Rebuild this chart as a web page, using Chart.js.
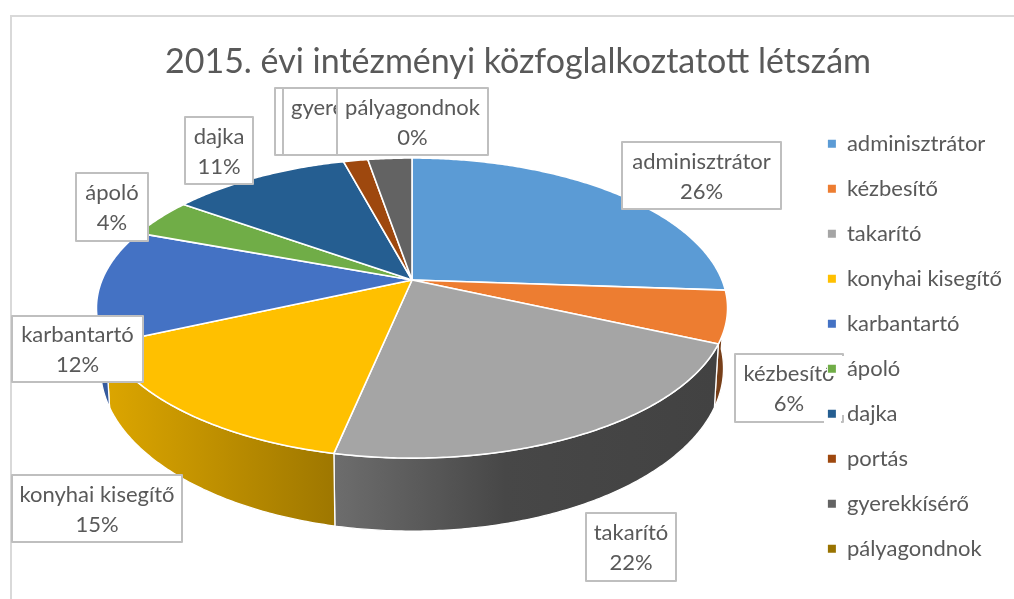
<!DOCTYPE html>
<html><head><meta charset="utf-8">
<style>html,body{margin:0;padding:0;background:#fff}#w{width:1014px;height:599px;position:relative}canvas{display:block;filter:blur(0.5px)}</style>
<script src="https://cdn.jsdelivr.net/npm/chart.js@4"></script>
</head><body><div id="w"><canvas id="c" width="1014" height="599"></canvas></div>
<script>
const titleText = "2015. évi intézményi közfoglalkoztatott létszám";
const categories = ["adminisztrátor","kézbesítő","takarító","konyhai kisegítő","karbantartó","ápoló","dajka","portás","gyerekkísérő","pályagondnok"];
const values = [26.1,5.6,21.6,15,12.3,4.2,11,1.5,2.7,0];
const colors = ["#5B9BD5","#ED7D31","#A5A5A5","#FFC000","#4472C4","#70AD47","#255E91","#9E480E","#636363","#997300"];
const labelBoxes = [[622,142,781,209],[735,354,843,422],[586,513,676,581],[12,475,182,542],[12,316,143,382],[76,173,148,241],[185,117,253,184],[275,88,360,155],[283,88,421,155],[337,88,488,155]];
const labelOrder = [0,2,3,4,5,6,1,7,8,9];
const topFace = {cx:412,cy:280,a:310,b:144.8,k:0.187};
const botFace = {cx:412,cy:338,a:306,b:157,k:0.187};
const sideShade = [[.6,.6],[.5,.5],[.66,.4],[.86,.62],[.8,.8],[.7,.7],[.7,.7],[.6,.6],[.6,.6],[.6,.6]];
function proj(f,th){const u=Math.sin(th),v=-Math.cos(th),d=1-f.k*v;return [f.cx+f.a*u/d,f.cy+f.b*v/d];}
function shade(hex,m){const n=parseInt(hex.slice(1),16);return `rgb(${Math.round((n>>16&255)*m)},${Math.round((n>>8&255)*m)},${Math.round((n&255)*m)})`;}
function rim(ctx,f,s,e,first){const N=Math.max(2,Math.ceil(Math.abs(e-s)/0.01));for(let i=0;i<=N;i++){const p=proj(f,s+(e-s)*i/N);if(i===0&&first)ctx.moveTo(p[0],p[1]);else ctx.lineTo(p[0],p[1]);}}
const pie3d={id:'pie3d',
 beforeDatasetDraw(){return false;},
 beforeDraw(chart){
  const ctx=chart.ctx,arcs=chart.getDatasetMeta(0).data;
  ctx.save();
  ctx.strokeStyle='#d9d9d9';ctx.lineWidth=2;ctx.beginPath();ctx.moveTo(11,599);ctx.lineTo(11,16);ctx.lineTo(1014,16);ctx.stroke();
  const lo=Math.PI*0.47,hi=Math.PI*1.53;
  arcs.forEach((el,i)=>{if(el.circumference<=0)return;
    const s0=el.startAngle+Math.PI/2,e0=el.endAngle+Math.PI/2;const s=Math.max(s0,lo),e=Math.min(e0,hi);if(e<=s)return;
    const p1=proj(botFace,s),p2=proj(botFace,e);
    const g=ctx.createLinearGradient(Math.min(p1[0],p2[0]),0,Math.max(p1[0],p2[0]),0);
    const sh=sideShade[i];
    if(i===2){g.addColorStop(0,shade(colors[i],.66));g.addColorStop(.45,shade(colors[i],.43));g.addColorStop(1,shade(colors[i],.4));}
    else {g.addColorStop(0,shade(colors[i],sh[0]));g.addColorStop(1,shade(colors[i],sh[1]));}
    ctx.beginPath();rim(ctx,topFace,s,e,true);rim(ctx,botFace,e,s,false);ctx.closePath();
    ctx.fillStyle=g;ctx.fill();
    ctx.strokeStyle='#fff';ctx.lineWidth=1.3;ctx.stroke();
  });
  arcs.forEach((el,i)=>{if(el.circumference<=0)return;
    const s=el.startAngle+Math.PI/2,e=el.endAngle+Math.PI/2;
    ctx.beginPath();ctx.moveTo(topFace.cx,topFace.cy);rim(ctx,topFace,s,e,false);ctx.closePath();
    ctx.fillStyle=el.options.backgroundColor;ctx.fill();
    ctx.strokeStyle='#fff';ctx.lineWidth=1.6;ctx.lineJoin='round';ctx.stroke();
  });
  ctx.textAlign='center';ctx.textBaseline='middle';ctx.font='22px Lato';
  labelOrder.forEach(i=>{const b=labelBoxes[i];
    ctx.fillStyle='#fff';ctx.fillRect(b[0],b[1],b[2]-b[0],b[3]-b[1]);
    ctx.strokeStyle='#bfbfbf';ctx.lineWidth=2;ctx.strokeRect(b[0],b[1],b[2]-b[0],b[3]-b[1]);
    const x=(b[0]+b[2])/2,y=(b[1]+b[3])/2;
    ctx.fillStyle='#595959';
    ctx.fillText(categories[i],x,y-14);
    ctx.fillText(Math.round(values[i])+'%',x,y+16);
  });
  ctx.fillStyle='#fff';
  ctx.fillRect(827,356,18,20);ctx.fillRect(824,398,17,26);ctx.fillRect(840,376,5,39);
  ctx.restore();
 }};
new Chart(document.getElementById('c'),{
 type:'pie',
 data:{labels:categories,datasets:[{data:values,backgroundColor:colors,borderWidth:0}]},
 options:{responsive:false,animation:false,
  layout:{padding:{left:24,right:2,top:42,bottom:0}},
  plugins:{tooltip:{enabled:false},
   title:{display:true,text:titleText,color:'#595959',font:{family:'Lato',size:34,weight:'normal'},padding:{top:0,bottom:27}},
   legend:{position:'right',align:'start',fullSize:false,labels:{color:'#595959',font:{family:'Lato',size:22},boxWidth:8,boxHeight:8,padding:23,
     generateLabels(chart){return categories.map((t,i)=>({text:t,fillStyle:colors[i],strokeStyle:colors[i],lineWidth:0,index:i,fontColor:'#595959'}));}}}
  }},
 plugins:[pie3d]
});
</script></body></html>
